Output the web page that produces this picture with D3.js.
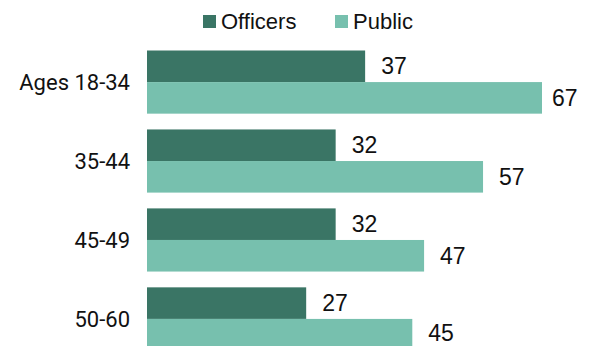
<!DOCTYPE html>
<html>
<head>
<meta charset="utf-8">
<script src="https://cdn.jsdelivr.net/npm/d3@7/dist/d3.min.js"></script>
<style>
  html, body { margin: 0; padding: 0; background: #fff; }
  svg { display: block; }
</style>
</head>
<body>
<svg id="chart" width="589" height="346"></svg>
<script>
// Age groups and the share in each group, officers vs. the public
const categories = ["Ages 18-34", "35-44", "45-49", "50-60"];
const seriesNames = ["Officers", "Public"];
const officers = [37, 32, 32, 27];
const publicVals = [67, 57, 47, 45];

const colors = { Officers: "#3a7565", Public: "#77c0ae" };

const width = 589, height = 346;
const svg = d3.select("#chart");

const rows = categories.map((c, i) => ({
  category: c,
  values: [
    { key: "Officers", value: officers[i] },
    { key: "Public", value: publicVals[i] }
  ]
}));

const x = d3.scaleLinear().domain([0, 67]).range([147, 542]);
const y = d3.scaleBand().domain(categories).range([50.5, 350.5]).paddingInner(0.2).paddingOuter(0);
const ySub = d3.scaleBand().domain(seriesNames).range([0, y.bandwidth()]);

const labelFont = "Liberation Sans, Arial, sans-serif";
const catFont = "Roboto, Liberation Sans, sans-serif";

// Bars
const groups = svg.append("g").selectAll("g")
  .data(rows)
  .join("g")
  .attr("transform", d => `translate(0,${y(d.category)})`);

groups.selectAll("rect")
  .data(d => d.values)
  .join("rect")
  .attr("x", x(0))
  .attr("y", d => ySub(d.key))
  .attr("width", d => x(d.value) - x(0))
  .attr("height", ySub.bandwidth())
  .attr("fill", d => colors[d.key]);

// Value labels to the right of each bar, kept inside the frame
groups.each(function (row) {
  const top = y(row.category);
  d3.select(this).selectAll("text.val")
    .data(row.values)
    .join("text")
    .attr("class", "val")
    .attr("x", d => Math.min(x(d.value) + 16, width - 37))
    .attr("y", d => Math.min(ySub(d.key) + ySub.bandwidth() / 2 + 8, height - 5 - top))
    .attr("font-family", labelFont)
    .attr("font-size", 23)
    .attr("fill", "#111")
    .text(d => d.value);
});

// Category axis on the left, no line or ticks
const yAxis = svg.append("g")
  .attr("transform", `translate(${x(0)},0)`)
  .call(d3.axisLeft(y).tickSize(0).tickPadding(17));
yAxis.select(".domain").remove();
yAxis.selectAll("text")
  .attr("font-family", catFont)
  .attr("font-size", 22)
  .attr("fill", "#111")
  .attr("dy", "0.36em");

// Legend
const legendX = [203, 335];
const legend = svg.append("g").selectAll("g")
  .data(seriesNames)
  .join("g")
  .attr("transform", (d, i) => `translate(${legendX[i]},15)`);
legend.append("rect")
  .attr("width", 13)
  .attr("height", 13)
  .attr("fill", d => colors[d]);
legend.append("text")
  .attr("x", 18)
  .attr("y", 6.5)
  .attr("dy", "0.36em")
  .attr("font-family", labelFont)
  .attr("font-size", 22)
  .attr("fill", "#111")
  .text(d => d);
</script>
</body>
</html>
